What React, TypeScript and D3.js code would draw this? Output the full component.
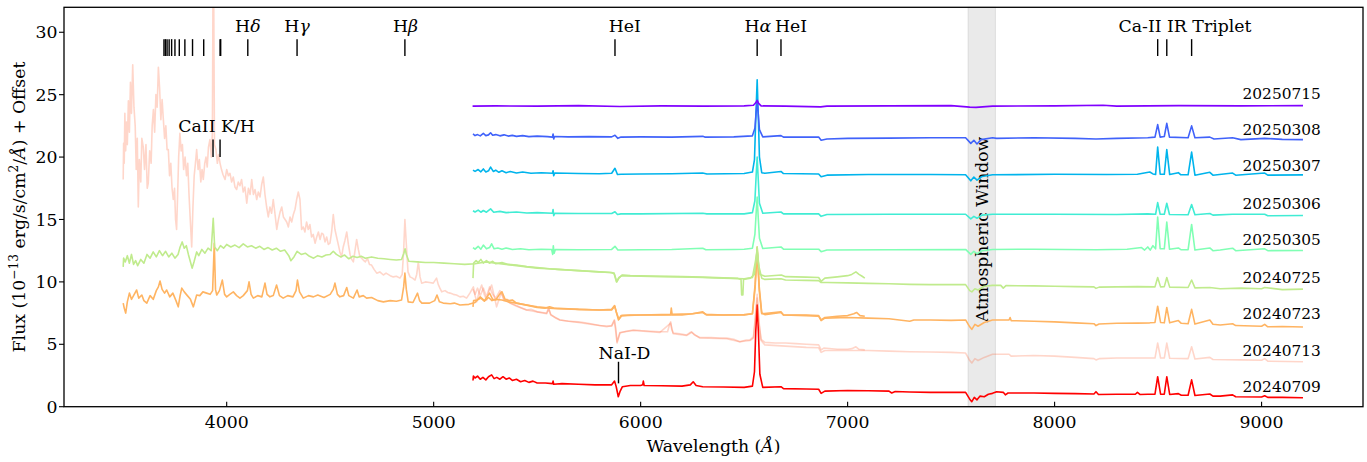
import React from 'react';
import * as d3 from 'd3';

// ---------- data ----------
const dates = ['20250715', '20250308', '20250307', '20250306', '20250305', '20240725', '20240723', '20240713', '20240709'];
const labelFlux = [25.1, 22.2, 19.3, 16.3, 13.36, 10.37, 7.43, 4.49, 1.6];

const s20250715: [number, number][] = [[5188,24.08],[5300,24.1],[5500,24.08],[5700,24.12],[5900,24.05],[6100,24.1],[6300,24.08],[6500,24.1],[6545,24.15],[6556,24.35],[6563,24.55],[6570,24.3],[6582,24.1],[6700,24.08],[6870,24.02],[6900,24.08],[7200,24.1],[7500,24.12],[7590,24.0],[7620,23.98],[7700,24.08],[8000,24.1],[8234,24.15],[8300,24.08],[8600,24.12],[8900,24.1],[9200,24.12]];

const s20250308: [number, number][] = [[5190,21.85],[5200,21.72],[5212,21.8],[5225,21.7],[5240,21.9],[5252,21.72],[5265,21.78],[5275,21.95],[5285,21.75],[5300,21.8],[5320,21.7],[5340,21.78],[5360,21.68],[5380,21.74],[5400,21.66],[5430,21.72],[5460,21.64],[5500,21.68],[5550,21.64],[5574,21.6],[5577,21.85],[5580,21.45],[5584,21.65],[5650,21.62],[5750,21.64],[5860,21.62],[5876,21.75],[5890,21.5],[5905,21.6],[6000,21.62],[6150,21.6],[6300,21.66],[6310,21.6],[6450,21.62],[6540,21.7],[6552,22.3],[6558,23.6],[6563,24.4],[6568,23.5],[6574,22.2],[6590,21.62],[6678,21.72],[6690,21.6],[6860,21.6],[6872,21.35],[6900,21.45],[7000,21.5],[7200,21.52],[7400,21.55],[7570,21.55],[7595,21.1],[7610,21.35],[7625,21.05],[7645,21.4],[7700,21.55],[7720,21.5],[7900,21.55],[8100,21.5],[8200,21.45],[8300,21.5],[8450,21.55],[8485,21.6],[8498,22.6],[8510,21.6],[8530,21.65],[8542,22.7],[8555,21.6],[8645,21.55],[8662,22.5],[8678,21.55],[8750,21.6],[8770,21.45],[8860,21.55],[8900,21.4],[9015,21.5],[9100,21.42],[9200,21.4]];

const s20250307: [number, number][] = [[5190,18.95],[5200,18.85],[5215,19.0],[5228,18.82],[5240,19.05],[5252,18.8],[5265,18.9],[5275,19.2],[5288,18.85],[5300,18.95],[5315,18.78],[5330,18.9],[5350,18.75],[5370,18.85],[5400,18.72],[5430,18.8],[5470,18.7],[5520,18.74],[5574,18.7],[5577,18.9],[5580,18.5],[5585,18.72],[5700,18.68],[5800,18.66],[5860,18.7],[5876,19.1],[5888,18.6],[5905,18.62],[6000,18.65],[6150,18.66],[6300,18.72],[6320,18.65],[6500,18.68],[6540,18.8],[6550,19.8],[6556,23],[6563,26.2],[6568,23.5],[6574,20],[6585,18.75],[6600,18.7],[6678,18.85],[6690,18.68],[6860,18.65],[6872,18.42],[6900,18.55],[7100,18.6],[7400,18.6],[7570,18.58],[7595,18.1],[7610,18.4],[7625,18.15],[7650,18.45],[7700,18.58],[8000,18.62],[8250,18.6],[8400,18.62],[8460,18.8],[8475,18.65],[8488,18.6],[8498,20.8],[8510,18.62],[8530,18.62],[8542,20.6],[8556,18.6],[8598,18.75],[8610,18.58],[8645,18.58],[8662,20.4],[8678,18.55],[8750,18.78],[8765,18.55],[8860,18.72],[8875,18.55],[9015,18.72],[9030,18.55],[9200,18.57]];

const s20250306: [number, number][] = [[5190,15.7],[5200,15.6],[5215,15.75],[5228,15.58],[5240,15.72],[5255,15.58],[5275,15.85],[5290,15.58],[5320,15.65],[5350,15.55],[5400,15.6],[5450,15.52],[5500,15.55],[5574,15.5],[5577,15.8],[5580,15.3],[5585,15.5],[5700,15.48],[5860,15.48],[5876,15.62],[5888,15.4],[5905,15.45],[6000,15.45],[6300,15.5],[6320,15.45],[6500,15.45],[6540,15.55],[6552,16.5],[6558,18.5],[6563,20.0],[6568,18.3],[6574,16.3],[6590,15.5],[6678,15.6],[6690,15.45],[6860,15.45],[6872,15.25],[6900,15.4],[7200,15.42],[7570,15.42],[7595,15.05],[7610,15.25],[7625,15.1],[7650,15.35],[7700,15.42],[8000,15.42],[8300,15.4],[8450,15.45],[8488,15.42],[8498,16.35],[8510,15.42],[8530,15.42],[8542,16.3],[8555,15.4],[8645,15.38],[8662,16.2],[8678,15.38],[8750,15.48],[8765,15.35],[8860,15.42],[9015,15.42],[9030,15.3],[9200,15.32]];

const s20250305: [number, number][] = [[5190,12.75],[5200,12.62],[5215,12.85],[5228,12.62],[5240,12.95],[5255,12.65],[5270,12.75],[5280,13.05],[5292,12.65],[5310,12.72],[5330,12.62],[5350,12.72],[5380,12.6],[5420,12.66],[5460,12.58],[5520,12.62],[5570,12.6],[5575,12.2],[5578,12.9],[5582,12.3],[5588,12.6],[5700,12.58],[5860,12.6],[5876,12.85],[5890,12.55],[6000,12.58],[6150,12.6],[6300,12.7],[6315,12.58],[6450,12.6],[6500,12.62],[6540,12.7],[6552,13.8],[6558,15.5],[6563,16.8],[6568,15.2],[6574,13.5],[6590,12.68],[6678,12.8],[6690,12.62],[6860,12.62],[6872,12.42],[6900,12.55],[7200,12.58],[7570,12.6],[7595,12.2],[7610,12.45],[7625,12.25],[7650,12.5],[7700,12.6],[7900,12.62],[8200,12.58],[8350,12.62],[8420,12.75],[8435,12.55],[8450,12.8],[8462,12.55],[8475,12.9],[8488,12.65],[8498,15.2],[8510,12.65],[8530,12.65],[8542,14.8],[8555,12.62],[8598,12.72],[8610,12.58],[8645,12.58],[8662,14.6],[8678,12.55],[8750,12.72],[8765,12.5],[8800,12.55],[8860,12.7],[8875,12.5],[9015,12.65],[9030,12.5],[9200,12.52]];

const s20240725Blue: [number, number][] = [[3500,11.2],[3502,11.9],[3510,11.6],[3520,12.1],[3530,11.5],[3540,12.2],[3550,11.4],[3560,11.7],[3570,11.3],[3585,11.8],[3600,11.5],[3615,12.2],[3630,11.9],[3645,12.4],[3660,12.0],[3675,12.5],[3690,12.1],[3705,12.45],[3720,12.0],[3735,12.3],[3750,11.9],[3765,12.2],[3775,12.8],[3785,13.2],[3795,12.7],[3805,12.9],[3815,12.2],[3825,11.6],[3833,11.1],[3842,11.6],[3855,12.4],[3865,12.1],[3880,12.6],[3895,12.3],[3910,12.7],[3925,12.5],[3935,15.1],[3942,12.8],[3955,12.5],[3970,12.9],[3985,12.7],[4000,13.0],[4020,12.8],[4040,12.95],[4060,12.75],[4080,13.05],[4100,12.8],[4120,12.9],[4140,12.7],[4160,12.85],[4180,12.6],[4200,12.75],[4220,12.55],[4240,12.7],[4260,12.45],[4280,12.55],[4300,12.1],[4310,11.7],[4325,12.0],[4340,12.45],[4360,12.2],[4380,12.3],[4400,12.05],[4420,11.9],[4440,12.1],[4460,12.0],[4480,12.15],[4500,12.2],[4515,12.45],[4530,12.2],[4550,12.0],[4570,12.15],[4590,11.85],[4610,12.05],[4630,11.95],[4650,12.05],[4670,11.9],[4700,12.0],[4730,11.9],[4760,11.85],[4790,11.8],[4820,11.75],[4845,11.8],[4856,12.3],[4862,12.65],[4868,12.2],[4880,11.65],[4920,11.6],[4960,11.55],[5000,11.55],[5050,11.5],[5100,11.45],[5150,11.4],[5200,11.45],[5250,11.6],[5300,11.5],[5350,11.4],[5400,11.3],[5450,11.2],[5500,11.1],[5550,11.05],[5600,11.0],[5650,10.95],[5700,10.9],[5750,10.85],[5800,10.8],[5850,10.75],[5872,10.7],[5885,10.0],[5895,10.3],[5910,10.55],[5950,10.5],[6000,10.48],[6100,10.45],[6200,10.42],[6300,10.38],[6400,10.32],[6470,10.28],[6485,10.2],[6488,8.95],[6494,8.95],[6497,10.2],[6530,10.3],[6550,10.6],[6558,11.8],[6563,12.8],[6568,11.6],[6576,10.6],[6600,10.45],[6680,10.55],[6700,10.42],[6800,10.38],[6860,10.35],[6872,10.05],[6890,10.3],[6950,10.4],[7000,10.5],[7020,10.6],[7040,10.8],[7055,10.6],[7070,10.45],[7083,10.3]];

const s20240725Red: [number, number][] = [[5190,10.3],[5193,11.5],[5205,11.7],[5215,11.55],[5228,11.8],[5240,11.5],[5255,11.7],[5270,11.5],[5285,11.65],[5300,11.45],[5330,11.55],[5360,11.4],[5400,11.35],[5450,11.22],[5500,11.15],[5560,11.05],[5600,11.0],[5700,10.9],[5800,10.8],[5860,10.75],[5872,10.65],[5883,10.0],[5895,10.35],[5910,10.5],[6000,10.45],[6100,10.42],[6200,10.4],[6300,10.35],[6400,10.3],[6500,10.25],[6540,10.35],[6553,11.5],[6563,12.5],[6572,11.2],[6585,10.3],[6600,10.2],[6678,10.25],[6700,10.15],[6800,10.12],[6860,10.1],[6872,9.95],[6900,9.95],[7000,9.92],[7100,9.88],[7200,9.85],[7300,9.8],[7400,9.78],[7500,9.78],[7570,9.78],[7590,9.3],[7600,9.2],[7615,9.45],[7630,9.35],[7660,9.65],[7700,9.72],[7740,9.72],[7752,9.5],[7765,9.7],[7900,9.68],[8000,9.65],[8100,9.62],[8190,9.6],[8200,9.48],[8215,9.58],[8300,9.6],[8400,9.62],[8485,9.6],[8498,10.35],[8512,9.6],[8530,9.62],[8542,10.35],[8556,9.58],[8645,9.55],[8662,10.15],[8678,9.52],[8750,9.55],[8800,9.45],[8900,9.5],[9000,9.45],[9015,9.55],[9100,9.38],[9200,9.42]];

const s20240723Blue: [number, number][] = [[3500,8.3],[3505,7.9],[3512,7.5],[3520,8.4],[3530,9.1],[3540,8.6],[3550,8.9],[3565,9.35],[3575,8.7],[3590,8.95],[3600,8.5],[3614,8.3],[3630,8.9],[3645,8.6],[3660,9.3],[3670,9.6],[3678,10.07],[3688,9.4],[3700,9.1],[3710,9.35],[3725,8.8],[3740,9.1],[3755,8.5],[3766,8.0],[3775,8.9],[3783,9.5],[3795,9.2],[3810,8.9],[3825,8.6],[3839,8.0],[3855,8.95],[3870,8.9],[3885,9.2],[3903,9.1],[3920,9.0],[3932,9.3],[3940,13.1],[3946,9.4],[3952,8.95],[3965,9.3],[3979,10.15],[3990,9.0],[4000,8.8],[4015,9.0],[4032,9.2],[4048,8.9],[4064,8.7],[4080,8.9],[4100,9.3],[4108,10.0],[4118,9.0],[4129,8.7],[4150,8.9],[4170,8.8],[4185,9.9],[4195,9.0],[4209,8.8],[4225,8.9],[4241,9.75],[4255,8.9],[4273,8.7],[4295,8.9],[4320,8.8],[4335,9.3],[4342,10.15],[4352,9.2],[4370,8.7],[4395,8.9],[4419,8.8],[4440,8.95],[4470,8.75],[4500,9.0],[4515,9.4],[4523,9.9],[4535,9.0],[4547,8.8],[4565,8.9],[4580,9.55],[4590,8.9],[4612,8.7],[4630,9.35],[4640,8.8],[4660,8.9],[4676,8.7],[4700,8.75],[4730,8.5],[4757,8.4],[4790,8.5],[4820,8.45],[4845,8.55],[4855,9.6],[4861,10.7],[4868,9.4],[4877,8.4],[4900,8.35],[4922,9.1],[4932,8.5],[4943,8.3],[4980,8.3],[5005,8.5],[5016,8.95],[5028,8.4],[5046,8.3],[5080,8.25],[5100,8.3],[5127,8.15],[5170,8.2],[5200,8.35],[5225,8.8],[5245,8.5],[5270,9.1],[5285,8.6],[5300,8.55],[5318,9.0],[5330,9.2],[5345,8.6],[5365,8.5],[5380,8.55],[5400,8.3],[5430,8.2],[5460,8.1],[5500,7.95],[5540,7.9],[5560,8.0],[5580,7.9],[5650,7.85],[5700,7.8],[5800,7.75],[5860,7.8],[5874,8.1],[5882,7.6],[5893,6.95],[5905,7.3],[5950,7.35],[6000,7.35],[6100,7.38],[6145,7.4],[6148,7.9],[6152,7.4],[6250,7.45],[6300,7.6],[6315,7.4],[6400,7.35],[6500,7.35],[6540,7.45],[6553,9.8],[6563,12.8],[6573,9.6],[6585,7.5],[6600,7.38],[6678,7.55],[6690,7.35],[6800,7.35],[6860,7.3],[6872,6.95],[6890,7.15],[6950,7.25],[7000,7.3],[7030,7.45],[7043,7.55],[7060,7.3],[7083,7.25]];

const s20240723Red: [number, number][] = [[5190,8.0],[5193,8.5],[5210,8.55],[5228,8.7],[5245,8.45],[5265,8.75],[5282,8.5],[5300,8.6],[5330,8.55],[5360,8.4],[5400,8.3],[5450,8.15],[5500,8.0],[5560,7.9],[5600,7.85],[5700,7.8],[5800,7.75],[5860,7.75],[5875,8.05],[5884,7.5],[5895,7.0],[5910,7.3],[6000,7.35],[6100,7.35],[6200,7.35],[6300,7.55],[6320,7.35],[6400,7.35],[6500,7.38],[6540,7.45],[6553,9.5],[6563,12.5],[6573,9.3],[6585,7.45],[6678,7.6],[6690,7.35],[6800,7.3],[6860,7.25],[6872,6.9],[6890,7.1],[7000,7.15],[7100,7.1],[7200,7.05],[7300,6.85],[7320,6.95],[7400,6.95],[7500,6.92],[7570,6.95],[7590,6.4],[7600,6.2],[7615,6.6],[7630,6.45],[7660,6.75],[7700,6.95],[7780,6.95],[7785,7.15],[7790,6.9],[7900,6.85],[8000,6.8],[8100,6.72],[8190,6.65],[8200,6.5],[8215,6.62],[8300,6.68],[8400,6.7],[8460,6.72],[8485,6.75],[8498,8.05],[8512,6.75],[8530,6.72],[8542,7.95],[8556,6.72],[8598,6.9],[8612,6.68],[8645,6.65],[8662,7.8],[8678,6.62],[8750,6.95],[8765,6.6],[8800,6.55],[8860,6.65],[8875,6.5],[9000,6.45],[9015,6.6],[9030,6.4],[9100,6.42],[9200,6.38]];

const s20240713Blue: [number, number][] = [[3500,18.2],[3502,21.1],[3505,19.5],[3508,23.5],[3512,20.5],[3516,22.8],[3520,21.0],[3525,24.5],[3530,22.0],[3535,26.0],[3540,23.5],[3546,27.4],[3552,24.0],[3558,22.5],[3563,19.0],[3568,21.5],[3573,16.0],[3578,19.8],[3585,18.0],[3590,21.5],[3597,20.8],[3603,19.0],[3610,21.0],[3616,17.5],[3621,17.9],[3628,20.5],[3635,19.5],[3640,22.5],[3646,23.8],[3652,22.0],[3658,25.0],[3664,24.0],[3670,27.2],[3676,25.5],[3682,23.0],[3688,24.6],[3694,23.0],[3700,21.5],[3706,22.5],[3712,20.6],[3718,20.6],[3724,18.5],[3730,19.5],[3736,17.5],[3742,16.6],[3748,17.5],[3753,15.0],[3758,14.2],[3763,17.0],[3768,20.0],[3774,21.9],[3780,20.5],[3786,21.0],[3792,19.0],[3799,20.0],[3806,18.5],[3812,19.5],[3818,17.0],[3824,15.0],[3831,12.8],[3837,16.0],[3843,18.5],[3849,19.5],[3855,20.6],[3862,19.0],[3868,19.8],[3875,18.0],[3881,19.0],[3887,18.2],[3894,19.5],[3900,20.0],[3906,19.2],[3912,20.8],[3919,21.4],[3926,20.0],[3931,22.0],[3934,34],[3937,34],[3941,21.0],[3948,20.6],[3955,19.5],[3961,20.2],[3968,19.5],[3975,19.0],[3982,18.6],[3992,18.2],[4000,19.0],[4008,18.5],[4016,18.7],[4024,18.0],[4032,18.4],[4040,17.6],[4048,17.4],[4056,18.0],[4064,17.7],[4072,18.2],[4080,17.2],[4088,17.6],[4097,16.3],[4105,17.5],[4113,17.0],[4121,18.2],[4129,17.0],[4137,17.4],[4145,16.6],[4153,17.2],[4161,16.8],[4169,17.8],[4177,18.4],[4185,17.0],[4193,16.0],[4201,15.2],[4209,16.0],[4217,15.5],[4225,16.6],[4233,15.5],[4242,14.2],[4250,15.0],[4258,15.6],[4266,16.0],[4274,15.2],[4282,15.0],[4290,14.8],[4298,14.4],[4306,15.2],[4314,14.8],[4322,15.4],[4330,15.8],[4338,16.6],[4346,17.2],[4354,16.6],[4362,14.2],[4370,14.4],[4378,14.0],[4386,14.8],[4394,14.2],[4402,14.6],[4410,13.6],[4418,13.8],[4427,13.1],[4435,13.6],[4443,14.0],[4451,13.4],[4459,13.9],[4467,13.8],[4475,13.2],[4483,13.6],[4491,13.0],[4499,13.1],[4507,14.0],[4515,15.4],[4523,14.2],[4531,13.6],[4539,13.0],[4547,12.4],[4555,12.0],[4563,12.8],[4571,13.3],[4580,14.0],[4588,13.0],[4596,12.2],[4604,11.8],[4612,11.6],[4620,12.5],[4628,13.4],[4636,12.6],[4644,12.0],[4652,11.9],[4660,11.75],[4670,11.6],[4680,11.9],[4690,11.4],[4700,11.35],[4712,11.0],[4725,10.7],[4740,10.8],[4757,10.55],[4770,10.7],[4790,10.5],[4805,10.4],[4820,10.45],[4837,10.3],[4848,10.6],[4855,12.5],[4861,15.0],[4868,13.0],[4876,10.8],[4886,10.4],[4898,10.3],[4910,10.15],[4918,10.6],[4926,11.6],[4934,10.4],[4942,9.9],[4960,10.0],[4980,9.95],[4998,9.9],[5006,10.1],[5014,10.3],[5022,9.8],[5030,9.5],[5039,9.2],[5055,9.3],[5068,9.15],[5079,9.1],[5095,9.0],[5110,8.95],[5127,8.8],[5143,8.85],[5159,8.7],[5175,9.1],[5192,9.6],[5200,8.9],[5208,8.4],[5220,9.2],[5232,9.75],[5244,9.0],[5256,8.55],[5268,9.3],[5280,9.75],[5292,8.9],[5304,8.0],[5316,8.6],[5328,9.2],[5340,8.5],[5355,8.6],[5369,8.3],[5385,8.2],[5400,8.1],[5420,7.95],[5449,7.75],[5470,7.8],[5500,7.6],[5525,7.55],[5546,7.5],[5555,7.9],[5565,7.4],[5590,7.1],[5610,6.95],[5650,6.85],[5700,6.8],[5739,6.7],[5790,6.55],[5836,6.4],[5860,6.5],[5873,6.95],[5880,6.3],[5886,5.1],[5893,5.5],[5900,5.9],[5930,6.05],[5965,6.15],[6000,6.1],[6050,6.05],[6093,6.0],[6130,6.0],[6140,6.6],[6145,6.8],[6150,6.2],[6157,5.9],[6190,5.85],[6222,5.75],[6235,5.9],[6246,6.0],[6260,5.75],[6286,5.55],[6340,5.55],[6380,5.5],[6415,5.5],[6450,5.4],[6479,5.2],[6510,5.35],[6528,5.35],[6545,5.6],[6553,7.0],[6563,9.0],[6572,6.8],[6582,5.4],[6600,5.15],[6650,5.1],[6700,5.1],[6750,5.05],[6800,5.0],[6860,4.95],[6872,4.55],[6885,4.7],[6950,4.6],[7000,4.6],[7020,4.65],[7040,4.8],[7055,4.6],[7083,4.55]];

const s20240713Red: [number, number][] = [[5190,9.4],[5200,9.0],[5212,9.5],[5225,8.9],[5240,9.5],[5255,8.8],[5270,9.6],[5285,9.0],[5300,8.7],[5320,9.3],[5340,8.6],[5369,8.3],[5400,8.05],[5449,7.75],[5500,7.6],[5546,7.45],[5556,7.85],[5566,7.35],[5610,6.95],[5700,6.75],[5800,6.5],[5860,6.45],[5873,6.9],[5886,5.2],[5900,5.95],[5965,6.1],[6093,5.95],[6145,6.7],[6157,5.85],[6222,5.7],[6246,5.95],[6286,5.5],[6415,5.45],[6479,5.2],[6528,5.3],[6545,5.5],[6553,6.8],[6563,8.7],[6572,6.6],[6582,5.3],[6600,4.95],[6700,4.85],[6800,4.75],[6860,4.72],[6872,4.35],[6890,4.5],[7000,4.5],[7100,4.5],[7200,4.45],[7300,4.4],[7400,4.38],[7500,4.35],[7570,4.3],[7590,3.7],[7600,3.5],[7615,3.85],[7630,3.7],[7660,3.95],[7700,4.2],[7780,4.2],[7790,4.05],[7900,4.1],[8000,4.05],[8100,3.95],[8190,3.85],[8200,3.75],[8215,3.85],[8300,3.9],[8400,3.9],[8485,3.9],[8498,5.1],[8512,3.9],[8530,3.9],[8542,5.1],[8556,3.88],[8645,3.85],[8662,4.8],[8678,3.82],[8750,3.95],[8765,3.78],[8900,3.75],[9000,3.72],[9015,3.85],[9030,3.65],[9200,3.6]];

const s20240709: [number, number][] = [[5190,2.1],[5192,2.45],[5200,2.3],[5212,2.45],[5225,2.2],[5238,2.35],[5252,2.15],[5265,2.4],[5280,2.55],[5292,2.25],[5305,2.35],[5320,2.2],[5335,2.4],[5350,2.2],[5365,2.3],[5380,2.1],[5400,2.2],[5420,2.0],[5440,2.1],[5460,1.95],[5480,2.05],[5500,1.9],[5540,1.9],[5574,1.85],[5577,2.05],[5580,1.8],[5620,1.85],[5700,1.8],[5780,1.75],[5860,1.75],[5874,2.05],[5882,1.6],[5892,0.8],[5900,1.2],[5912,1.6],[5950,1.7],[6000,1.7],[6010,1.75],[6013,2.05],[6017,1.7],[6100,1.68],[6200,1.65],[6240,1.75],[6254,2.0],[6268,1.7],[6300,1.6],[6400,1.58],[6500,1.55],[6540,1.65],[6550,2.8],[6556,6.0],[6563,8.15],[6569,6.0],[6576,2.6],[6590,1.55],[6678,1.6],[6690,1.45],[6800,1.42],[6860,1.4],[6872,1.07],[6890,1.25],[7000,1.3],[7100,1.28],[7200,1.25],[7213,1.1],[7230,1.22],[7300,1.18],[7400,1.15],[7500,1.15],[7570,1.15],[7590,0.6],[7600,0.4],[7612,0.75],[7625,0.55],[7640,0.85],[7660,0.8],[7680,1.0],[7700,1.07],[7720,1.2],[7752,1.15],[7762,0.95],[7775,1.1],[7900,1.1],[8000,1.07],[8100,1.05],[8190,1.02],[8200,1.2],[8212,0.98],[8300,1.0],[8390,1.0],[8400,1.15],[8412,0.98],[8450,1.0],[8485,1.0],[8498,2.4],[8512,1.0],[8530,1.0],[8542,2.4],[8556,0.98],[8598,1.05],[8612,0.92],[8645,0.92],[8662,2.15],[8678,0.9],[8750,1.02],[8765,0.85],[8800,0.85],[8860,0.95],[8875,0.8],[9000,0.78],[9015,0.88],[9030,0.75],[9100,0.75],[9200,0.72]];

// segments of each observation, same order as dates
const segments: [number, number][][][] = [
  [s20250715],
  [s20250308],
  [s20250307],
  [s20250306],
  [s20250305],
  [s20240725Blue, s20240725Red],
  [s20240723Blue, s20240723Red],
  [s20240713Blue, s20240713Red],
  [s20240709],
];
const colors = ['#8000ff', '#4062fa', '#00b4ec', '#40ecd4', '#80ffb4', '#c0eb8d', '#ffb462', '#ff6232', '#ff0000'];
const opacities = [1, 1, 1, 1, 1, 1, 1, 0.26, 1];

// line identification marks
const balmerSeries = [3697, 3704, 3712, 3722, 3734, 3750, 3771, 3798, 3835, 3889, 3968, 3971, 4102, 4340, 4861];
const topLines = [5876, 6563, 6678, 8498, 8542, 8662];
const topLabels = ['Hδ', 'Hγ', 'Hβ', 'HeI', 'Hα', 'HeI', 'Ca-II IR Triplet'];
const topLabelWaves = [4102, 4340, 4864, 5923, 6566, 6727, 8630];
const caHK = [3934, 3968];
const naD = [5893];
const atmWindow = [7582, 7714];

const xTicks = [4000, 5000, 6000, 7000, 8000, 9000];
const yTicks = [0, 5, 10, 15, 20, 25, 30];

// ---------- layout ----------
const W = 1367, H = 462;
const L = 64, R = 1363, T = 7.3, B = 406.7;
const FONT = "'DejaVu Serif', serif";
const FS = 17.3;

export default function App() {
  const x = d3.scaleLinear().domain([3214, 9490]).range([L, R]);
  const y = d3.scaleLinear().domain([0, 32]).range([B, T]);
  const line = d3.line<[number, number]>().x(d => x(d[0])).y(d => y(d[1]));

  const order = d3.range(dates.length).reverse();

  const renderLabel = (s: string) => {
    const m = s.match(/^H([αβγδ])$/);
    if (m) return (<>H<tspan fontStyle="italic">{m[1]}</tspan></>);
    return s;
  };

  return (
    <svg width={W} height={H} style={{ position: 'absolute', left: 0, top: 0, background: '#fff' }} fontFamily={FONT}>
      <defs>
        <clipPath id="plot"><rect x={L} y={T} width={R - L} height={B - T} /></clipPath>
      </defs>
      <rect x={0} y={0} width={W} height={H} fill="#fff" />
      {/* atmospheric window */}
      <rect x={x(atmWindow[0])} y={T} width={x(atmWindow[1]) - x(atmWindow[0])} height={B - T}
        fill="#808080" fillOpacity={0.17} stroke="#808080" strokeOpacity={0.2} strokeWidth={1} />
      <text transform={`translate(${(x(atmWindow[0]) + x(atmWindow[1])) / 2},${y(14.2)}) rotate(-90)`}
        textAnchor="middle" dy="0.35em" fontSize={17.2} fill="#000">Atmospheric Window</text>

      <g clipPath="url(#plot)">
        {order.map(i => segments[i].map((seg, j) => (
          <path key={`${i}-${j}`} d={line(seg) || ''} fill="none" stroke={colors[i]} strokeOpacity={opacities[i]}
            strokeWidth={1.6} strokeLinejoin="round" />
        )))}
      </g>

      {/* top line markers */}
      {balmerSeries.concat(topLines).map((w, i) => (
        <line key={`bm${i}`} x1={x(w)} x2={x(w)} y1={y(28.1)} y2={y(29.45)} stroke="#000" strokeWidth={1.4} />
      ))}
      {topLabels.map((t, i) => (
        <text key={`tl${i}`} x={x(topLabelWaves[i])} y={y(30.0)} textAnchor="middle" fontSize={FS}>{renderLabel(t)}</text>
      ))}
      {caHK.map((w, i) => (
        <line key={`hk${i}`} x1={x(w)} x2={x(w)} y1={y(20.0)} y2={y(21.4)} stroke="#000" strokeWidth={1.4} />
      ))}
      <text x={x(3951)} y={y(22.0)} textAnchor="middle" fontSize={FS}>CaII K/H</text>
      {naD.map((w, i) => (
        <line key={`na${i}`} x1={x(w)} x2={x(w)} y1={y(1.87)} y2={y(3.6)} stroke="#000" strokeWidth={1.4} />
      ))}
      <text x={x(5922)} y={y(3.8)} textAnchor="middle" fontSize={FS}>NaI-D</text>

      {/* date labels */}
      {dates.map((d, i) => (
        <text key={d} x={x(8908)} y={y(labelFlux[i])} dy="0.35em" fontSize={15.4} fill="#000">{d}</text>
      ))}

      {/* axes frame */}
      <rect x={L} y={T} width={R - L} height={B - T} fill="none" stroke="#000" strokeWidth={1.3} />
      {xTicks.map(t => (
        <g key={`xt${t}`}>
          <line x1={x(t)} x2={x(t)} y1={B} y2={B - 5} stroke="#000" strokeWidth={1.1} />
          <text x={x(t)} y={B + 21.5} textAnchor="middle" fontSize={FS}>{t}</text>
        </g>
      ))}
      {yTicks.map(t => (
        <g key={`yt${t}`}>
          <line x1={L} x2={L - 5} y1={y(t)} y2={y(t)} stroke="#000" strokeWidth={1.1} />
          <text x={L - 6.5} y={y(t)} dy="0.35em" textAnchor="end" fontSize={FS}>{t}</text>
        </g>
      ))}
      <text x={(L + R) / 2} y={452} textAnchor="middle" fontSize={FS}>
        Wavelength (<tspan fontStyle="italic">Å</tspan>)
      </text>
      <text transform={`translate(25,${(T + B) / 2}) rotate(-90)`} textAnchor="middle" fontSize={FS}>
        Flux (10<tspan dy={-7.5} fontSize={12.2}>−13</tspan><tspan dy={7.5}> erg/s/cm</tspan><tspan dy={-7.5} fontSize={12.2}>2</tspan><tspan dy={7.5}>/</tspan><tspan fontStyle="italic">Å</tspan>) + Offset
      </text>
    </svg>
  );
}
